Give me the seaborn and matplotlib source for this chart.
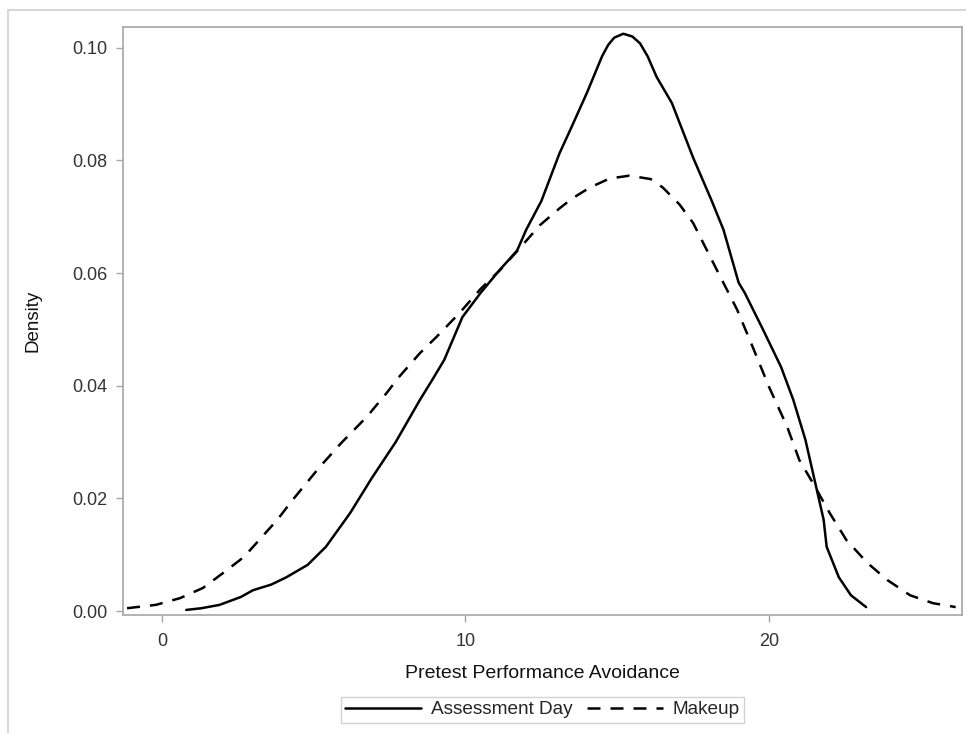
import numpy as np
import pandas as pd
import seaborn as sns
import matplotlib.pyplot as plt
from matplotlib.lines import Line2D
from matplotlib.ticker import FormatStrFormatter

# ---------------------------------------------------------------
# data (density curves)
# ---------------------------------------------------------------
assess_x = [0.8, 1.3, 1.9, 2.6, 3.0, 3.6, 4.1, 4.8, 5.4, 6.2, 6.9, 7.7, 8.5, 8.9,
            9.3, 9.9, 10.5, 11.1, 11.7, 12.0, 12.5, 13.1, 13.5, 14.0, 14.5, 14.7,
            14.9, 15.2, 15.5, 15.75, 16.0, 16.3, 16.8, 17.5, 18.1, 18.5, 19.0, 19.2,
            19.8, 20.4, 20.8, 21.2, 21.5, 21.8, 21.9, 22.3, 22.7, 23.2]
assess_y = [0.0002, 0.0005, 0.0011, 0.0025, 0.0037, 0.0047, 0.0060, 0.0082, 0.0114,
            0.0174, 0.0235, 0.0300, 0.0375, 0.0410, 0.0446, 0.0522, 0.0565, 0.0604,
            0.0640, 0.0677, 0.0728, 0.0813, 0.0860, 0.0920, 0.0985, 0.1005, 0.1018,
            0.1025, 0.1020, 0.1008, 0.0985, 0.0948, 0.0902, 0.0805, 0.0730, 0.0677,
            0.0583, 0.0565, 0.0500, 0.0433, 0.0375, 0.0304, 0.0233, 0.0162, 0.0114,
            0.0060, 0.0028, 0.0007]

makeup_x = [-1.15, -0.2, 0.6, 1.35, 2.0, 2.7, 3.2, 3.8, 4.3, 5.2, 5.9, 6.75, 7.4,
            7.8, 8.5, 9.05, 9.8, 10.5, 11.15, 11.8, 12.45, 13.1, 13.5, 14.1, 14.75,
            15.4, 16.1, 16.5, 17.05, 17.5, 17.95, 18.4, 18.95, 19.5, 20.0, 20.6,
            21.0, 21.45, 22.0, 22.55, 23.25, 23.9, 24.65, 25.4, 26.15]
makeup_y = [0.0005, 0.0011, 0.0023, 0.0041, 0.0067, 0.0096, 0.0126, 0.0162, 0.0197,
            0.0256, 0.0298, 0.0345, 0.0387, 0.0415, 0.0458, 0.0487, 0.0529, 0.0572,
            0.0606, 0.0645, 0.0685, 0.0715, 0.0732, 0.0752, 0.0768, 0.0773, 0.0767,
            0.0752, 0.0722, 0.0689, 0.0641, 0.0593, 0.0535, 0.0464, 0.0398, 0.0327,
            0.0268, 0.0227, 0.0174, 0.0126, 0.0085, 0.0055, 0.0028, 0.0014, 0.0007]

x_ticks = [0, 10, 20]
y_ticks = [0.00, 0.02, 0.04, 0.06, 0.08, 0.10]

SPINE = "#a6a6a6"
LW = 1.8
DASH = (5.2, 4.0)

sns.set_theme(style="white")
plt.rcParams["font.family"] = ["Liberation Sans", "DejaVu Sans"]

df = pd.concat([
    pd.DataFrame({"x": assess_x, "y": assess_y, "group": "Assessment Day"}),
    pd.DataFrame({"x": makeup_x, "y": makeup_y, "group": "Makeup"}),
], ignore_index=True)

fig = plt.figure(figsize=(9.66, 7.33), dpi=100)
ax = fig.add_axes([0.1273, 0.161, 0.8686, 0.8022])

sns.lineplot(data=df, x="x", y="y", hue="group", style="group",
             palette={"Assessment Day": "black", "Makeup": "black"},
             dashes={"Assessment Day": "", "Makeup": DASH},
             sort=False, estimator=None, linewidth=LW, ax=ax, legend=False)

ax.set_xlim(-1.285, 26.36)
ax.set_ylim(-0.0007, 0.1037)
ax.set_xticks(x_ticks)
ax.set_yticks(y_ticks)
ax.yaxis.set_major_formatter(FormatStrFormatter("%.2f"))

for sp in ax.spines.values():
    sp.set_visible(True)
    sp.set_color(SPINE)
    sp.set_linewidth(1.2)

ax.tick_params(axis="both", direction="out", length=5, width=1, color=SPINE,
               labelcolor="#333333", labelsize=13)
ax.tick_params(axis="x", pad=8, bottom=True)
ax.tick_params(axis="y", pad=6, left=True)

ax.set_xlabel("Pretest Performance Avoidance", fontsize=14, color="#111111")
ax.set_ylabel("Density", fontsize=13.5, color="#111111")
ax.xaxis.set_label_coords(0.5, -0.085)
ax.yaxis.set_label_coords(-0.097, 0.5)

handles = [Line2D([], [], color="black", lw=LW),
           Line2D([], [], color="black", lw=LW, dashes=DASH)]
leg = ax.legend(handles, ["Assessment Day", "Makeup"], ncol=2, loc="center",
                bbox_to_anchor=(0.5, -0.161), fontsize=13.7, frameon=True,
                fancybox=False, edgecolor="#c8c8c8", handlelength=4.0,
                handletextpad=0.5, columnspacing=0.8, borderpad=0.22,
                borderaxespad=0)
leg.get_frame().set_linewidth(1.0)

# outer graph border (only top/left visible in the reference crop)
fig.add_artist(Line2D([8 / 966, 8 / 966], [0, 1 - 10 / 733],
                      transform=fig.transFigure, color="#d0d0d0", lw=1.2))
fig.add_artist(Line2D([8 / 966, 1], [1 - 10 / 733, 1 - 10 / 733],
                      transform=fig.transFigure, color="#d0d0d0", lw=1.2))

fig.savefig("out.png", dpi=100)
